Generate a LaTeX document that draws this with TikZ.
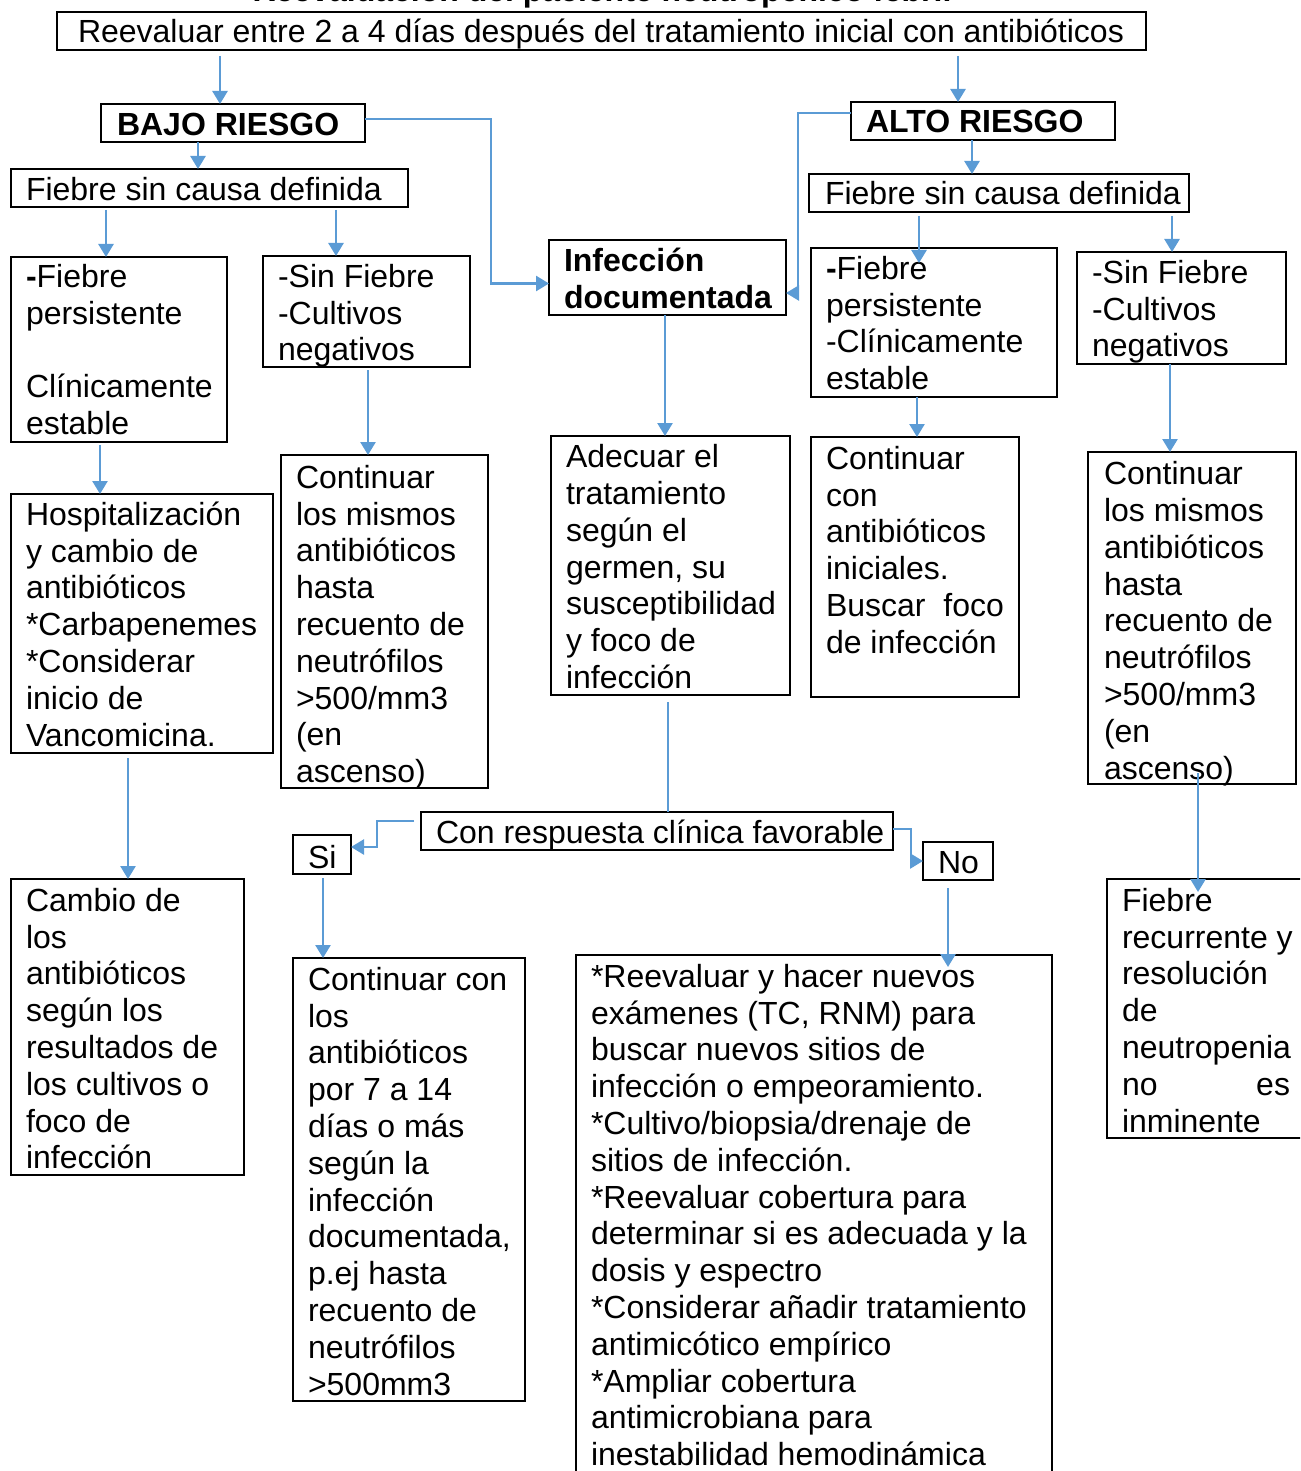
\documentclass[tikz,border=0pt]{standalone}
\usepackage{fontspec}
\setmainfont{Liberation Sans}
\usetikzlibrary{arrows.meta,calc}
\definecolor{flowblue}{HTML}{5B9BD5}
\tikzset{
  frame/.style={draw=black, line width=1.1pt, inner sep=0pt, outer sep=0pt},
  txt/.style={inner sep=0pt, outer sep=0pt, align=left, anchor=north west,
    font=\fontsize{16}{18.4}\selectfont},
  arr/.style={draw=flowblue, line width=1.3pt, -{Triangle[length=6.5pt,width=7.5pt]}},
  link/.style={draw=flowblue, line width=0.9pt},
}
% name, left, top, right, bottom, text x, first baseline, text
% (the strut on the first line fixes the distance from the text top to its baseline)
\newcommand\flowbox[8]{%
  \node[frame, anchor=north west, minimum width={(#4-#2)*0.5pt},
    minimum height={(#5-#3)*0.5pt}] (#1) at (#2,#3) {};
  \node[txt] (#1-t) at ({#6+2},{#7-24.4}) {\rule{0pt}{12.8pt}#8};
}
\begin{document}
\begin{tikzpicture}[x=0.5pt, y=-0.5pt]
\useasboundingbox (0,0) rectangle (1300,1471);
\clip (0,0) rectangle (1300,1471);

% heading
\node[inner sep=0pt, anchor=base, font=\fontsize{16}{18.4}\selectfont\bfseries]
  (title) at (602,1.5) {Reevaluación del paciente neutropénico febril};

% boxes
\flowbox{top}{57}{12}{1146}{50}{76}{41.5}{Reevaluar entre 2 a 4 días después del tratamiento inicial con antibióticos}
\flowbox{bajo}{101}{104}{365}{142}{115}{134}{\textbf{BAJO RIESGO}}
\flowbox{alto}{851}{102}{1115}{140}{864}{131}{\textbf{ALTO RIESGO}}
\flowbox{fiebreL}{11}{169}{408}{207}{24}{199.5}{Fiebre sin causa definida}
\flowbox{fiebreR}{809}{174}{1189}{212}{823}{203.5}{Fiebre sin causa definida}
\flowbox{infec}{549}{240}{786}{315}{562}{270.5}{\textbf{Infección}\\\textbf{documentada}}
\flowbox{persL}{11}{257}{227}{442}{24}{286}{\textbf{-}Fiebre\\persistente\\[18.4pt]Clínicamente\\estable}
\flowbox{sinFL}{263}{256}{470}{367}{276}{286}{-Sin Fiebre\\-Cultivos\\negativos}
\flowbox{persR}{811}{248}{1057}{397}{824}{278}{\textbf{-}Fiebre\\persistente\\-Clínicamente\\estable}
\flowbox{sinFR}{1077}{252}{1286}{364}{1090}{282}{-Sin Fiebre\\-Cultivos\\negativos}
\flowbox{hosp}{11}{494}{273}{753}{24}{524}{Hospitalización\\y cambio de\\antibióticos\\*Carbapenemes\\*Considerar\\inicio de\\Vancomicina.}
\flowbox{contL}{281}{455}{488}{788}{294}{487}{Continuar\\los mismos\\antibióticos\\hasta\\recuento de\\neutrófilos\\>500/mm3\\(en\\ascenso)}
\flowbox{adec}{551}{436}{790}{695}{564}{466.5}{Adecuar el\\tratamiento\\según el\\germen, su\\susceptibilidad\\y foco de\\infección}
\flowbox{contI}{811}{437}{1019}{697}{824}{468}{Continuar\\con\\antibióticos\\iniciales.\\Buscar\ \ foco\\de infección}
\flowbox{contR}{1088}{452}{1296}{784}{1102}{483.5}{Continuar\\los mismos\\antibióticos\\hasta\\recuento de\\neutrófilos\\>500/mm3\\(en\\ascenso)}
\flowbox{cambio}{11}{879}{244}{1175}{24}{910}{Cambio de\\los\\antibióticos\\según los\\resultados de\\los cultivos o\\foco de\\infección}
\flowbox{resp}{421}{812}{893}{850}{434}{842}{Con respuesta clínica favorable}
\flowbox{si}{293}{835}{351}{874}{306}{867}{Si}
\flowbox{no}{923}{842}{993}{880}{936}{872}{No}
\flowbox{contSi}{293}{958}{525}{1401}{306}{989}{Continuar con\\los\\antibióticos\\por 7 a 14\\días o más\\según la\\infección\\documentada,\\p.ej hasta\\recuento de\\neutrófilos\\>500mm3}
\flowbox{reev}{576}{955}{1052}{1490}{589}{986}{*Reevaluar y hacer nuevos\\exámenes (TC, RNM) para\\buscar nuevos sitios de\\infección o empeoramiento.\\*Cultivo/biopsia/drenaje de\\sitios de infección.\\*Reevaluar cobertura para\\determinar si es adecuada y la\\dosis y espectro\\*Considerar añadir tratamiento\\antimicótico empírico\\*Ampliar cobertura\\antimicrobiana para\\inestabilidad hemodinámica}
\flowbox{recur}{1107}{879}{1320}{1138}{1120}{910}{Fiebre\\recurrente y\\resolución\\de\\neutropenia\\\hbox to 84pt{no\hfill es}\\inminente}

% connectors
\draw[arr] ($(top.south -| 220,0)+(0,6)$) -- (bajo.north -| 220,0);
\draw[arr] ($(top.south -| 958,0)+(0,6)$) -- (alto.north -| 958,0);
\draw[arr] ($(bajo.east)+(0,-4)$) -- ++(126,0) |- ($(infec.west)+(0,6)$);
\draw[arr] ($(alto.west)+(0,-8)$) -- ++(-53,0) |- ($(infec.east)+(0,15.5)$);
\draw[arr] (bajo.south -| 198,0) -- (fiebreL.north -| 198,0);
\draw[arr] (alto.south -| 972,0) -- (fiebreR.north -| 972,0);
\draw[arr] ($(fiebreL.south -| 106,0)+(0,3)$) -- (persL.north -| 106,0);
\draw[arr] ($(fiebreL.south -| 336,0)+(0,3)$) -- (sinFL.north -| 336,0);
\draw[arr] ($(fiebreR.south -| 919,0)+(0,4)$) -- ($(persR.north -| 919,0)+(0,15)$);
\draw[arr] ($(fiebreR.south -| 1172,0)+(0,4)$) -- (sinFR.north -| 1172,0);
\draw[arr] ($(persL.south -| 100,0)+(0,3)$) -- (hosp.north -| 100,0);
\draw[arr] ($(sinFL.south -| 368,0)+(0,3)$) -- (contL.north -| 368,0);
\draw[arr] (infec.south -| 665,0) -- (adec.north -| 665,0);
\draw[arr] (persR.south -| 917,0) -- (contI.north -| 917,0);
\draw[arr] (sinFR.south -| 1170,0) -- (contR.north -| 1170,0);
\draw[arr] ($(hosp.south -| 128,0)+(0,5)$) -- (cambio.north -| 128,0);
\draw[link] ($(adec.south -| 668,0)+(0,7)$) -- (resp.north -| 668,0);
\draw[arr] ($(resp.west)+(-7,-10)$) -- ++(-37,0) |- ($(si.east)+(0,-7.5)$);
\draw[arr] ($(resp.east)+(0,-2)$) -- ++(18,0) |- (no.west);
\draw[arr] ($(si.south -| 323,0)+(0,4)$) -- (contSi.north -| 323,0);
\draw[arr] ($(no.south -| 948,0)+(0,8)$) -- ($(reev.north -| 948,0)+(0,12)$);
\draw[arr] ($(contR.south -| 1198,0)+(0,-11)$) -- ($(recur.north -| 1198,0)+(0,13)$);
\end{tikzpicture}
\end{document}
